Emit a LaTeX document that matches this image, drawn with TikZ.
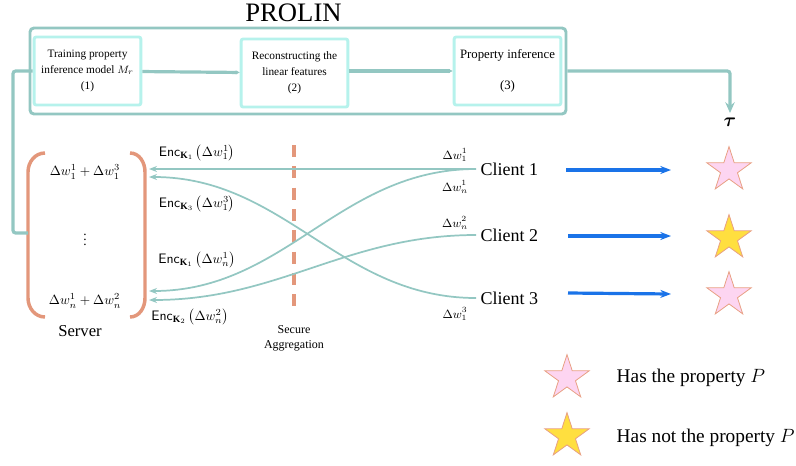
\documentclass[tikz,border=0pt]{standalone}
\usepackage{amsmath}
\usepackage{fontspec}
\setmainfont{Liberation Serif}
\usetikzlibrary{
  arrows.meta,
  shapes.geometric
}
\definecolor{prolinteal}{RGB}{147,199,194}
\definecolor{boxcyan}{RGB}{182,242,236}
\definecolor{salmon}{RGB}{227,151,123}
\definecolor{sendblue}{RGB}{26,115,232}
\definecolor{starpink}{RGB}{253,213,241}
\definecolor{staryellow}{RGB}{255,223,63}
\definecolor{staredge}{RGB}{232,160,132}
\newcommand{\enc}[3]{$\mathsf{Enc}_{\mathbf{K}_{#1}}\left(\Delta w_{#2}^{#3}\right)$}

\begin{document}
\begin{tikzpicture}[x=0.75pt,y=-0.75pt,
  every node/.style = {align=center, font=\fontsize{8.5}{12}\selectfont},
  stagebox/.style = {draw=boxcyan, line width=2.2pt, rounded corners=1.5pt,
    minimum width=80pt, minimum height=51pt, inner sep=1pt},
  teal line/.style = {draw=prolinteal, line width=2.4pt, rounded corners=2pt},
  upload/.style = {draw=prolinteal, line width=1.3pt,
    -{Stealth[length=6pt,width=4.5pt]}},
  infer/.style = {draw=sendblue, line width=2.4pt,
    -{Stealth[length=8pt,width=6pt]}},
  prop star/.style = {star, star points=5, star point ratio=2.618,
    minimum size=35pt, inner sep=0pt, draw=staredge, line width=0.6pt},
  client/.style = {anchor=west, font=\fontsize{13.5}{15}\selectfont},
  legend/.style = {anchor=west, font=\fontsize{14.5}{16}\selectfont},
  wlabel/.style = {font=\fontsize{9}{11}\selectfont},
  enclabel/.style = {font=\fontsize{10.3}{12}\selectfont}]
  \useasboundingbox (0,0) rectangle (796,465);

  \node[draw=prolinteal, line width=2.2pt, rounded corners=3pt,
    minimum width=402pt, minimum height=64.5pt] (prolin) at (298,71) {};
  \node[font=\fontsize{20}{22}\selectfont] at (293.5,13) {PROLIN};
  \node[stagebox] (train) at (87.5,71)
    {Training property\\inference model $M_r$\\(1)};
  \node[stagebox] (recon) at (294.5,73)
    {Reconstructing the\\linear features\\(2)};
  \node[stagebox, font=\fontsize{9.6}{11.5}\selectfont] (infer) at (507.5,71)
    {Property inference\\[2.6ex](3)};
  \node[font=\fontsize{15}{17}\selectfont] (tau) at (730,122) {$\boldsymbol{\tau}$};

  \draw[teal line, -{Stealth[length=3pt,width=3pt]}] (train) -- (recon);
  \draw[teal line, -{Stealth[length=3pt,width=3pt]}] (recon.east |- infer) -- (infer);
  \draw[teal line, -{Stealth[length=8pt,width=7pt]}] (prolin.east |- infer) -| (tau.north);

  \draw[salmon, line width=2.6pt] (45,153) to[out=180,in=90] (28,172)
    -- (28,298) to[out=-90,in=180] (45,317);
  \draw[salmon, line width=2.6pt] (130,153) to[out=0,in=90] (145,172)
    -- (145,298) to[out=-90,in=0] (130,317);
  \coordinate (lbr) at (28,233);
  \draw[teal line] (train.west) -- (13,71) |- (lbr);

  \node[font=\fontsize{10}{12}\selectfont] (sum1) at (85,172)
    {$\Delta w_1^1 + \Delta w_1^3$};
  \node[font=\fontsize{10}{12}\selectfont] at (85,236) {$\vdots$};
  \node[font=\fontsize{10}{12}\selectfont] (sumn) at (85,301)
    {$\Delta w_n^1 + \Delta w_n^2$};
  \node[font=\fontsize{12.5}{14}\selectfont] at (80,331) {Server};
  \coordinate (in1) at (149,169);
  \coordinate (in2) at (149,177);
  \coordinate (in3) at (149,291);
  \coordinate (in4) at (149,300);

  \draw[salmon, line width=2.6pt, dash pattern=on 9pt off 7pt] (294,145) -- (294,312);
  \node[font=\fontsize{9}{11}\selectfont] at (294,338) {Secure\\Aggregation};

  \node[client] (c1) at (476,169) {Client 1};
  \node[client] (c2) at (476,235) {Client 2};
  \node[client] (c3) at (476,298) {Client 3};

  \draw[upload] (c1.west) -- (in1);
  \draw[upload] (c1.west) to[out=180,in=0] (in3);
  \draw[upload] (c2.west) to[out=180,in=0] (in4);
  \draw[upload] (c3.west) to[out=180,in=0] (in2);

  \node[enclabel] at (197,153) {\enc{1}{1}{1}};
  \node[enclabel] at (197,204) {\enc{3}{1}{3}};
  \node[enclabel] at (197,260) {\enc{1}{n}{1}};
  \node[enclabel] at (190,317) {\enc{2}{n}{2}};
  \node[wlabel] at (455,155) {$\Delta w_1^1$};
  \node[wlabel] at (455,187) {$\Delta w_n^1$};
  \node[wlabel] at (455,223) {$\Delta w_n^2$};
  \node[wlabel] at (455,314) {$\Delta w_1^3$};

  \node[prop star, fill=starpink] (s1) at (729,170) {};
  \node[prop star, fill=staryellow] (s2) at (729,238) {};
  \node[prop star, fill=starpink] (s3) at (729,295) {};
  \coordinate (a1) at (566,170);
  \coordinate (a2) at (568,236);
  \coordinate (a3) at (568,293);
  \coordinate (t1) at (671,170);
  \coordinate (t2) at (671,236);
  \coordinate (t3) at (671,294);
  \draw[infer] (a1) -- (t1);
  \draw[infer] (a2) -- (t2);
  \draw[infer] (a3) -- (t3);

  \node[prop star, fill=starpink] (key1) at (567,378) {};
  \node[prop star, fill=staryellow] (key2) at (567,436) {};
  \node[legend] at (612,378) {Has the property $P$};
  \node[legend] at (612,438) {Has not the property $P$};
\end{tikzpicture}
\end{document}
